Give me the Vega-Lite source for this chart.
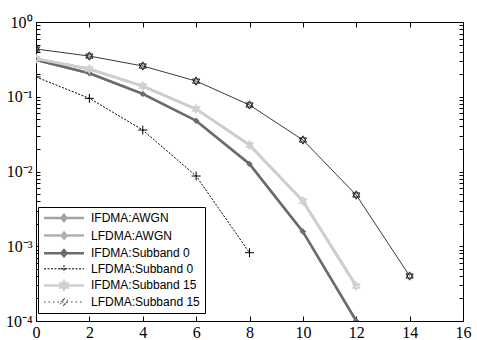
{
  "$schema": "https://vega.github.io/schema/vega-lite/v6.json",
  "width": 427,
  "height": 299,
  "autosize": {"type": "none"},
  "padding": {"left": 36, "top": 22, "right": 14, "bottom": 19},
  "config": {
    "view": {"stroke": "black", "strokeWidth": 1},
    "axis": {"grid": false, "domain": false, "labelFont": "Liberation Serif", "labelFontSize": 16, "labelColor": "black", "tickColor": "black", "tickSize": -5, "labelPadding": 8, "title": null},
    "legend": {"labelFont": "Liberation Sans", "labelFontSize": 12, "labelColor": "black"}
  },
  "data": {"values": [
    {"series": "IFDMA:AWGN", "x": 0, "y": 0.323}, {"series": "IFDMA:AWGN", "x": 2, "y": 0.235}, {"series": "IFDMA:AWGN", "x": 4, "y": 0.139}, {"series": "IFDMA:AWGN", "x": 6, "y": 0.0686}, {"series": "IFDMA:AWGN", "x": 8, "y": 0.0226}, {"series": "IFDMA:AWGN", "x": 10, "y": 0.00403}, {"series": "IFDMA:AWGN", "x": 12, "y": 0.000294},
    {"series": "LFDMA:AWGN", "x": 0, "y": 0.31}, {"series": "LFDMA:AWGN", "x": 2, "y": 0.206}, {"series": "LFDMA:AWGN", "x": 4, "y": 0.109}, {"series": "LFDMA:AWGN", "x": 6, "y": 0.0478}, {"series": "LFDMA:AWGN", "x": 8, "y": 0.0126}, {"series": "LFDMA:AWGN", "x": 10, "y": 0.00157}, {"series": "LFDMA:AWGN", "x": 12, "y": 0.0001},
    {"series": "IFDMA:Subband 0", "x": 0, "y": 0.31}, {"series": "IFDMA:Subband 0", "x": 2, "y": 0.206}, {"series": "IFDMA:Subband 0", "x": 4, "y": 0.109}, {"series": "IFDMA:Subband 0", "x": 6, "y": 0.0478}, {"series": "IFDMA:Subband 0", "x": 8, "y": 0.0126}, {"series": "IFDMA:Subband 0", "x": 10, "y": 0.00157}, {"series": "IFDMA:Subband 0", "x": 12, "y": 0.0001},
    {"series": "LFDMA:Subband 0", "x": 0, "y": 0.184}, {"series": "LFDMA:Subband 0", "x": 2, "y": 0.0953}, {"series": "LFDMA:Subband 0", "x": 4, "y": 0.0359}, {"series": "LFDMA:Subband 0", "x": 6, "y": 0.0087}, {"series": "LFDMA:Subband 0", "x": 8, "y": 0.00082},
    {"series": "IFDMA:Subband 15", "x": 0, "y": 0.323}, {"series": "IFDMA:Subband 15", "x": 2, "y": 0.235}, {"series": "IFDMA:Subband 15", "x": 4, "y": 0.139}, {"series": "IFDMA:Subband 15", "x": 6, "y": 0.0686}, {"series": "IFDMA:Subband 15", "x": 8, "y": 0.0226}, {"series": "IFDMA:Subband 15", "x": 10, "y": 0.00403}, {"series": "IFDMA:Subband 15", "x": 12, "y": 0.000294},
    {"series": "LFDMA:Subband 15", "x": 0, "y": 0.435}, {"series": "LFDMA:Subband 15", "x": 2, "y": 0.35}, {"series": "LFDMA:Subband 15", "x": 4, "y": 0.258}, {"series": "LFDMA:Subband 15", "x": 6, "y": 0.162}, {"series": "LFDMA:Subband 15", "x": 8, "y": 0.0776}, {"series": "LFDMA:Subband 15", "x": 10, "y": 0.0264}, {"series": "LFDMA:Subband 15", "x": 12, "y": 0.00485}, {"series": "LFDMA:Subband 15", "x": 14, "y": 0.0004}
  ]},
  "resolve": {"axis": {"x": "independent", "y": "independent"}},
  "layer": [
    {
      "transform": [{"filter": {"field": "series", "oneOf": ["IFDMA:AWGN", "LFDMA:AWGN", "IFDMA:Subband 0", "IFDMA:Subband 15"]}}],
      "mark": {"type": "line", "strokeWidth": 2.5, "clip": true},
      "encoding": {
        "x": {"field": "x", "type": "quantitative", "scale": {"domain": [0, 16], "nice": false}, "axis": {"values": [0, 2, 4, 6, 8, 10, 12, 14, 16], "labelFlush": false}},
        "y": {"field": "y", "type": "quantitative", "scale": {"type": "log", "domain": [0.0001, 1], "nice": false}, "axis": {
          "values": [0.0001, 0.0002, 0.0003, 0.0004, 0.0005, 0.0006, 0.0007, 0.0008, 0.0009, 0.001, 0.002, 0.003, 0.004, 0.005, 0.006, 0.007, 0.008, 0.009, 0.01, 0.02, 0.03, 0.04, 0.05, 0.06, 0.07, 0.08, 0.09, 0.1, 0.2, 0.3, 0.4, 0.5, 0.6, 0.7, 0.8, 0.9, 1],
          "labelFlush": false, "labelOverlap": false, "tickSize": -4,
          "labelExpr": "datum.value == 1 ? '10⁰' : datum.value == 0.1 ? '10⁻¹' : datum.value == 0.01 ? '10⁻²' : datum.value == 0.001 ? '10⁻³' : datum.value == 0.0001 ? '10⁻⁴' : ''"}},
        "stroke": {"field": "series", "type": "nominal", "sort": null, "title": null,
          "scale": {"domain": ["IFDMA:AWGN", "LFDMA:AWGN", "IFDMA:Subband 0", "LFDMA:Subband 0", "IFDMA:Subband 15", "LFDMA:Subband 15"], "range": ["#a3a3a3", "#b0b0b0", "#6b6b6b", "#000000", "#cfcfcf", "#3a3a3a"]},
          "legend": {"orient": "none", "legendX": 2, "legendY": 185, "strokeColor": "black", "fillColor": "white", "padding": 5, "rowPadding": 1.6, "symbolType": "stroke", "symbolSize": 1600, "symbolOffset": 15, "labelOffset": 21,
            "encode": {"symbols": {"update": {
              "shape": {"signal": "datum.value == 'LFDMA:Subband 0' ? 'M-1,0H1M0,-0.18V0.18M-0.18,0H0.18' : (datum.value == 'IFDMA:Subband 15' || datum.value == 'LFDMA:Subband 15') ? 'M-1,0H1M0,-0.2L0.173,0.1L-0.173,0.1ZM0,0.2L-0.173,-0.1L0.173,-0.1Z' : 'M-1,0H1M0,-0.15L0.13,0L0,0.15L-0.13,0Z'"},
              "strokeWidth": {"signal": "datum.value == 'LFDMA:Subband 0' || datum.value == 'LFDMA:Subband 15' ? 1 : 2.5"},
              "strokeDash": {"signal": "datum.value == 'LFDMA:Subband 0' ? [2, 1.5] : datum.value == 'LFDMA:Subband 15' ? [1.5, 3] : [1, 0]"},
              "stroke": {"signal": "datum.value == 'LFDMA:Subband 15' ? '#555555' : scale('stroke', datum.value)"},
              "fill": {"signal": "(datum.value == 'IFDMA:AWGN' || datum.value == 'LFDMA:AWGN' || datum.value == 'IFDMA:Subband 0') ? scale('stroke', datum.value) : 'transparent'"},
              "opacity": {"value": 1}
            }}}}}
      }
    },
    {
      "transform": [{"filter": {"field": "series", "equal": "LFDMA:Subband 0"}}],
      "mark": {"type": "line", "strokeWidth": 1, "strokeDash": [2, 1.5], "clip": true},
      "encoding": {
        "x": {"field": "x", "type": "quantitative", "axis": null},
        "y": {"field": "y", "type": "quantitative", "axis": null},
        "stroke": {"field": "series", "type": "nominal", "legend": null}
      }
    },
    {
      "transform": [{"filter": {"field": "series", "equal": "LFDMA:Subband 15"}}],
      "mark": {"type": "line", "strokeWidth": 1, "clip": true},
      "encoding": {
        "x": {"field": "x", "type": "quantitative", "axis": null},
        "y": {"field": "y", "type": "quantitative", "axis": null},
        "stroke": {"field": "series", "type": "nominal", "legend": null}
      }
    },
    {
      "transform": [{"filter": {"field": "series", "equal": "IFDMA:Subband 0"}}],
      "mark": {"type": "point", "shape": "diamond", "filled": true, "fill": "#6b6b6b", "stroke": "#6b6b6b", "strokeWidth": 1, "size": 30, "opacity": 1, "clip": true},
      "encoding": {
        "x": {"field": "x", "type": "quantitative", "axis": null},
        "y": {"field": "y", "type": "quantitative", "axis": null}
      }
    },
    {
      "transform": [{"filter": {"field": "series", "equal": "LFDMA:Subband 0"}}],
      "mark": {"type": "point", "shape": "M-1,0H1M0,-1V1", "filled": false, "stroke": "#000000", "strokeWidth": 1, "size": 80, "opacity": 1, "clip": true},
      "encoding": {
        "x": {"field": "x", "type": "quantitative", "axis": null},
        "y": {"field": "y", "type": "quantitative", "axis": null}
      }
    },
    {
      "transform": [{"filter": {"field": "series", "equal": "IFDMA:Subband 15"}}],
      "mark": {"type": "point", "shape": "M0,-1L0.866,0.5L-0.866,0.5ZM0,1L-0.866,-0.5L0.866,-0.5Z", "filled": false, "stroke": "#d0d0d0", "strokeWidth": 1.5, "size": 60, "opacity": 1, "clip": true},
      "encoding": {
        "x": {"field": "x", "type": "quantitative", "axis": null},
        "y": {"field": "y", "type": "quantitative", "axis": null}
      }
    },
    {
      "transform": [{"filter": {"field": "series", "equal": "LFDMA:Subband 15"}}],
      "mark": {"type": "point", "shape": "M0,-1L0.866,0.5L-0.866,0.5ZM0,1L-0.866,-0.5L0.866,-0.5Z", "filled": false, "stroke": "#222222", "strokeWidth": 1, "size": 70, "opacity": 1, "clip": true},
      "encoding": {
        "x": {"field": "x", "type": "quantitative", "axis": null},
        "y": {"field": "y", "type": "quantitative", "axis": null}
      }
    },
    {
      "mark": {"type": "line", "opacity": 0},
      "encoding": {
        "x": {"field": "x", "type": "quantitative", "axis": {"orient": "top", "labels": false, "values": [0, 2, 4, 6, 8, 10, 12, 14, 16]}},
        "y": {"field": "y", "type": "quantitative", "axis": {"orient": "right", "labels": false, "tickSize": -4,
          "values": [0.0001, 0.0002, 0.0003, 0.0004, 0.0005, 0.0006, 0.0007, 0.0008, 0.0009, 0.001, 0.002, 0.003, 0.004, 0.005, 0.006, 0.007, 0.008, 0.009, 0.01, 0.02, 0.03, 0.04, 0.05, 0.06, 0.07, 0.08, 0.09, 0.1, 0.2, 0.3, 0.4, 0.5, 0.6, 0.7, 0.8, 0.9, 1]}},
        "detail": {"field": "series", "type": "nominal"}
      }
    }
  ]
}
